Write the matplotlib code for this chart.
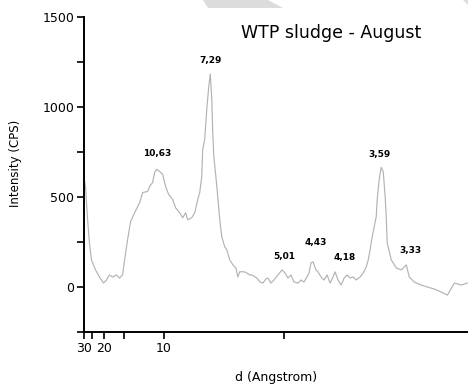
import numpy as np
import matplotlib.pyplot as plt
from matplotlib.patches import Polygon

# XRD pattern, Cu K-alpha, intensity vs 2-theta (degrees)
two_theta = [2.93, 3.04, 3.18, 3.33, 3.48, 3.78, 4.07, 4.37, 4.59, 4.81, 5.04, 5.33,
             5.55, 5.78, 5.93, 6.15, 6.37, 6.67, 7.04, 7.26, 7.63, 7.78, 8.00, 8.15,
             8.30, 8.52, 8.74, 8.96, 9.18, 9.48, 9.70, 10.00, 10.22, 10.44, 10.59,
             10.89, 11.11, 11.33, 11.48, 11.63, 11.70, 11.85, 12.00, 12.15, 12.26,
             12.37, 12.44, 12.52, 12.67, 12.81, 12.96, 13.11, 13.33, 13.48, 13.70,
             13.93, 14.15, 14.30, 14.44, 14.67, 14.81, 14.96, 15.18, 15.33, 15.56,
             15.70, 15.93, 16.15, 16.37, 16.52, 16.74, 16.96, 17.26, 17.56, 17.78,
             18.00, 18.22, 18.44, 18.74, 18.96, 19.18, 19.41, 19.55, 19.70, 19.85,
             20.07, 20.22, 20.44, 20.67, 20.89, 21.11, 21.33, 21.48, 21.70, 21.93,
             22.15, 22.37, 22.59, 22.81, 23.04, 23.33, 23.56, 23.78, 23.93, 24.07,
             24.22, 24.52, 24.59, 24.74, 24.89, 25.04, 25.18, 25.26, 25.33, 25.63,
             26.00, 26.37, 26.74, 26.96, 27.33, 27.85, 28.30, 28.81, 29.33, 29.78,
             30.07, 30.30, 30.81, 31.26]
intensity = [610, 560, 391, 246, 151, 95, 56, 22, 39, 67, 56, 67,
             50, 67, 151, 263, 363, 413, 469, 525, 531, 559, 581, 637,
             654, 642, 626, 559, 515, 486, 440, 413, 385, 413, 374,
             385, 413, 486, 525, 615, 765, 821, 989, 1117, 1184,
             1045, 860, 726, 615, 503, 374, 279, 223, 207, 151,
             123, 106, 56, 85, 84, 84, 78, 67, 67, 56,
             50, 28, 22, 45, 50, 22, 39, 67, 95, 78,
             50, 67, 28, 22, 39, 28, 56, 78, 134, 140,
             95, 84, 56, 39, 67, 22, 56, 84, 39, 11,
             50, 67, 50, 56, 39, 56, 78, 112, 151, 207,
             279, 391, 486, 600, 665, 640, 500, 391, 246, 151,
             106, 95, 123, 56, 28, 11, 0, -11, -28, -45,
             -6, 22, 11, 22]

# peak labels (d-spacing) and where they sit
peak_labels = ["10,63", "7,29", "5,01", "4,43", "4,18", "3,59", "3,33"]
peak_x = [8.30, 12.29, 17.70, 20.07, 22.22, 24.74, 27.04]
peak_y = [743, 1257, 168, 246, 162, 737, 201]

# x axis is labelled in d (Angstrom)
d_ticks = [30, 25, 20, 15, 10, 5]
d_tick_labels = ["30", "", "20", "", "10", ""]
wavelength = 1.5406
tick_pos = np.degrees(2 * np.arcsin(wavelength / (2 * np.array(d_ticks, dtype=float))))

fig = plt.figure(figsize=(4.68, 3.89), dpi=100)
ax = fig.add_axes([0.1795, 0.1465, 0.8205, 0.8095])

ax.plot(two_theta, intensity, color="#b3b3b3", linewidth=0.85)

for lab, px, py in zip(peak_labels, peak_x, peak_y):
    ax.text(px, py, lab, ha="center", va="center", fontsize=6.5, fontweight="bold")

ax.set_xlim(2.93, 31.3)
ax.set_ylim(-250, 1500)
ax.set_xticks(tick_pos)
ax.set_xticklabels(d_tick_labels)
ax.set_yticks([0, 500, 1000, 1500])
ax.set_yticks([-250, 250, 750, 1250], minor=True)

for side in ["top", "right"]:
    ax.spines[side].set_visible(False)
for side in ["left", "bottom"]:
    ax.spines[side].set_linewidth(1.4)

ax.tick_params(axis="both", which="major", length=5, width=1.2, labelsize=9, pad=2)
ax.tick_params(axis="y", which="minor", length=5, width=1.2)

ax.set_ylabel("Intensity (CPS)", fontsize=8.5)
ax.yaxis.set_label_coords(-0.161, 0.537)
ax.set_xlabel("d (Angstrom)", fontsize=9)
ax.xaxis.set_label_coords(0.5, -0.125)

fig.text(0.515, 0.915, "WTP sludge - August", fontsize=12.5, ha="left", va="center")

# faint shapes along the top edge
fig.patches.append(Polygon([(203/468, 1.0), (268/468, 1.0), (283/468, 1 - 8/389), (208/468, 1 - 8/389)],
                           closed=True, transform=fig.transFigure, facecolor="#dcdcdc", edgecolor="none"))
fig.patches.append(Polygon([(463/468, 1.0), (1.0, 1.0), (1.0, 1 - 5/389)],
                           closed=True, transform=fig.transFigure, facecolor="#dcdcdc", edgecolor="none"))

fig.savefig("out.png", dpi=100)
